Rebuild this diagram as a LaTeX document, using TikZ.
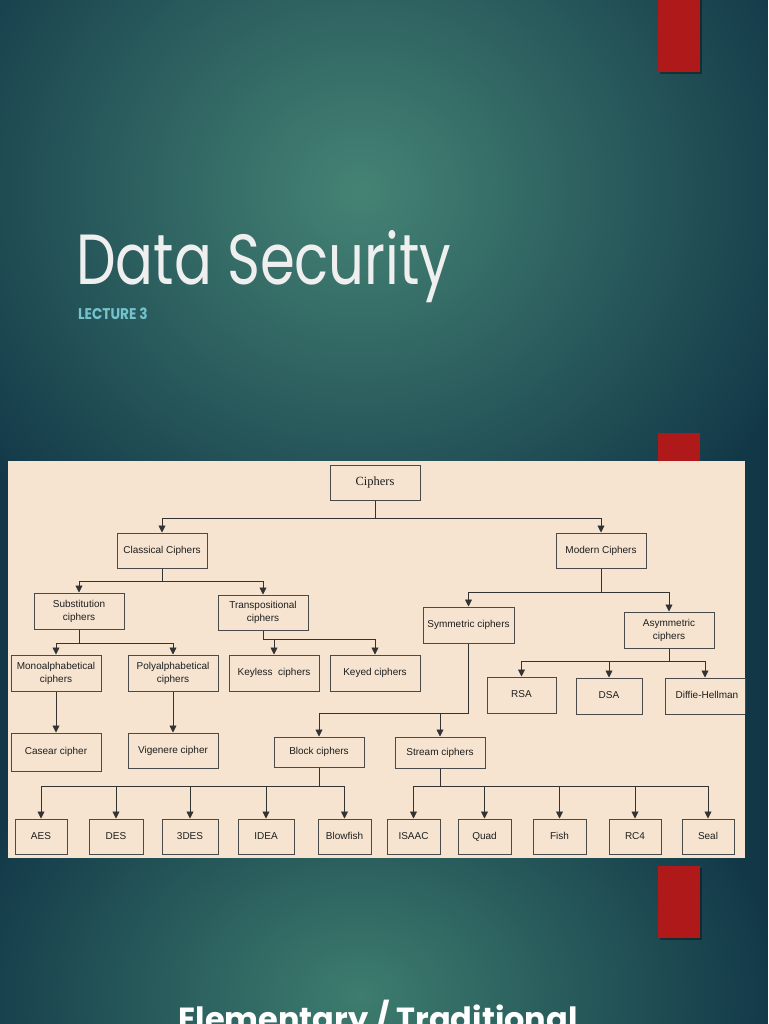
\documentclass[tikz,border=0pt]{standalone}
\usepackage{fontspec}
\setmainfont{Liberation Sans}
\newfontfamily\serifx{Liberation Serif}
\newfontfamily\titlef{Poppins}
\usetikzlibrary{arrows.meta,fadings}
\definecolor{bgdark}{HTML}{123848}
\definecolor{bglight}{HTML}{458475}
\definecolor{bglow}{HTML}{3E7D6F}
\definecolor{panel}{HTML}{F6E4D0}
\definecolor{boxline}{HTML}{4A4A4A}
\definecolor{lineclr}{HTML}{333333}
\definecolor{txt}{HTML}{1E1E1E}
\definecolor{barred}{HTML}{B0191A}
\definecolor{titlewhite}{HTML}{EFEFEF}
\definecolor{lect}{HTML}{74C3CC}
\tikzfading[name=spot, inner color=transparent!0, outer color=transparent!100]
\begin{document}
\begin{tikzpicture}[x=1pt,y=-1pt,
  box/.style={draw=boxline, line width=1pt, fill=panel, minimum width=90pt, minimum height=36pt,
    inner sep=0pt, align=center, font=\fontsize{10}{13}\selectfont, text=txt},
  single/.style={text height=7.3pt, text depth=2.1pt},
  leaf/.style={box, single, minimum height=35pt},
  arr/.style={draw=lineclr, line width=0.85pt, -{Triangle[width=7pt,length=7pt]}},
  redbar/.style={fill=barred},
  barshadow/.style={fill=black, opacity=0.35}]
\useasboundingbox (0,0) rectangle (768,1024);
\clip (0,0) rectangle (768,1024);
% background
\fill[bgdark] (0,0) rectangle (768,1024);
\fill[bglight, path fading=spot] (360,190) ellipse (480 and 440);
\fill[bglow, path fading=spot] (360,995) ellipse (420 and 320);
% red bars
\fill[barshadow] (660,0) rectangle (702,74);
\fill[redbar] (658,0) rectangle (700,72);
\fill[redbar] (658,433) rectangle (700,470);
\fill[barshadow] (660,868) rectangle (702,940);
\fill[redbar] (658,866) rectangle (700,938);
% titles
\node[anchor=base west, inner sep=0pt, text=titlewhite] (title) at (76,284)
  {\scalebox{0.79}[1]{\titlef\fontsize{71}{71}\selectfont Data Security}};
\node[anchor=base west, inner sep=0pt, text=lect] (lecture) at (78,319)
  {\scalebox{0.88}[1]{\titlef\bfseries\fontsize{15.5}{15.5}\selectfont LECTURE 3}};
\node[anchor=base, inner sep=0pt, text=white] (bottom) at (378,1030)
  {\titlef\bfseries\fontsize{32}{32}\selectfont Elementary / Traditional};
% panel
\fill[panel] (8,461) rectangle (745,858);
\begin{scope}
\clip (8,461) rectangle (745,858);
\node[box, minimum height=35pt, font=\serifx\fontsize{12.5}{14}\selectfont] (ciphers) at (375,482.5) {Ciphers};
\node[box, single, minimum height=35pt] (classical) at (162,550.5) {Classical Ciphers};
\node[box, single, minimum height=35pt] (modern) at (601,550.5) {Modern Ciphers};
\node[box] (subst) at (79,611) {Substitution\\ciphers};
\node[box, minimum height=35pt] (transp) at (263,612.5) {Transpositional\\ciphers};
\node[box, single, minimum width=91pt] (symm) at (468.5,625) {Symmetric ciphers};
\node[box] (asymm) at (669,630) {Asymmetric\\ciphers};
\node[box] (mono) at (56,673) {Monoalphabetical\\ciphers};
\node[box] (poly) at (173,673) {Polyalphabetical\\ciphers};
\node[box, single] (keyless) at (274,673) {Keyless\ \ ciphers};
\node[box, single] (keyed) at (375,673) {Keyed ciphers};
\node[box, single, minimum width=69pt] (rsa) at (521.5,695) {RSA};
\node[box, single, minimum width=66pt] (dsa) at (609,696) {DSA};
\node[box, single, minimum width=84pt] (dh) at (707,696) {Diffie-Hellman};
\node[box, single, minimum height=38pt] (caesar) at (56,752) {Casear cipher};
\node[box, single, minimum height=35pt] (vigenere) at (173,750.5) {Vigenere cipher};
\node[box, single, minimum height=30pt] (block) at (319,752) {Block ciphers};
\node[box, single, minimum height=31pt] (stream) at (440,752.5) {Stream ciphers};
\node[leaf, minimum width=52pt] (aes) at (41,836.5) {AES};
\node[leaf, minimum width=54pt] (des) at (116,836.5) {DES};
\node[leaf, minimum width=56pt] (tdes) at (190,836.5) {3DES};
\node[leaf, minimum width=56pt] (idea) at (266,836.5) {IDEA};
\node[leaf, minimum width=53pt] (blowfish) at (344.5,836.5) {Blowfish};
\node[leaf, minimum width=53pt] (isaac) at (413.5,836.5) {ISAAC};
\node[leaf, minimum width=53pt] (quad) at (484.5,836.5) {Quad};
\node[leaf, minimum width=53pt] (fish) at (559.5,836.5) {Fish};
\node[leaf, minimum width=52pt] (rc4) at (635,836.5) {RC4};
\node[leaf, minimum width=52pt] (seal) at (708,836.5) {Seal};
% connectors
\draw[arr] (ciphers.south) -- ++(0,18) -| (classical.north);
\draw[arr] (ciphers.south) -- ++(0,18) -| (modern.north);
\draw[arr] (classical.south) -- ++(0,13) -| (subst.north);
\draw[arr] (classical.south) -- ++(0,13) -| (transp.north);
\draw[arr] (modern.south) -- ++(0,24) -| (symm.north);
\draw[arr] (modern.south) -- ++(0,24) -| (asymm.north);
\draw[arr] (subst.south) -- ++(0,14) -| (mono.north);
\draw[arr] (subst.south) -- ++(0,14) -| (poly.north);
\draw[arr] (transp.south) -- ++(0,9) -| (keyless.north);
\draw[arr] (transp.south) -- ++(0,9) -| (keyed.north);
\draw[arr] (asymm.south) -- ++(0,13) -| (rsa.north);
\draw[arr] (asymm.south) -- ++(0,13) -| (dsa.north);
\draw[arr] (asymm.south) -- ++(0,13) -| ([xshift=-2pt]dh.north);
\draw[arr] (symm.south) -- ++(0,70) -| (block.north);
\draw[arr] (symm.south) -- ++(0,70) -| (stream.north);
\draw[arr] (mono.south) -- (caesar.north);
\draw[arr] (poly.south) -- (vigenere.north);
\foreach \n in {aes,des,tdes,idea,blowfish}
  \draw[arr] (block.south) -- ++(0,19) -| (\n.north);
\foreach \n in {isaac,quad,fish,rc4,seal}
  \draw[arr] (stream.south) -- ++(0,18) -| (\n.north);
\end{scope}
\end{tikzpicture}
\end{document}
